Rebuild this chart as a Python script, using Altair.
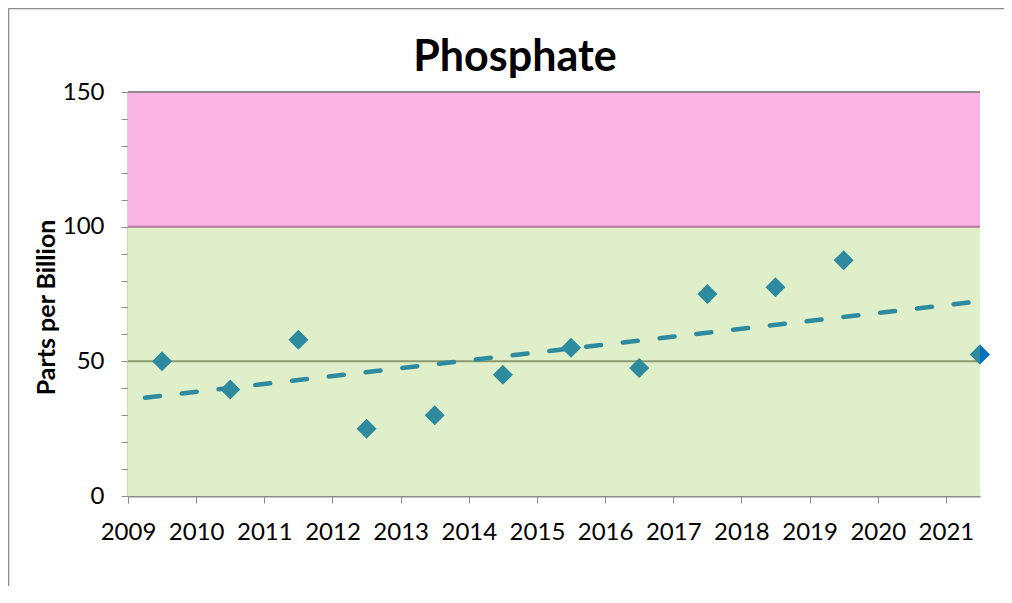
import altair as alt
import pandas as pd

# ---- data ----
years = [2009.5, 2010.5, 2011.5, 2012.5, 2013.5, 2014.5, 2015.5, 2016.5, 2017.5, 2018.5, 2019.5, 2021.5]
ppb = [50, 39.5, 58, 25, 30, 45, 55, 47.5, 75, 77.5, 87.5, 52.5]
latest_year = [2021.5]
latest_ppb = [52.5]
band_low = [0, 100]
band_high = [100, 150]
band_colors = ["#DEEFCA", "#FBB5E2"]
grid_values = [50, 100]
grid_colors = ["#8A9A6E", "#B07A9E"]
x_domain = [2009, 2021.5]
y_domain = [0, 150]
x_ticks = list(range(2009, 2022))
y_ticks = list(range(0, 151, 10))
trend_extent = [2009.25, 2021.5]
title_text = ["Phosphate"]

FONT = "Lato"
TEAL = "#2E8A9E"
BLUE = "#0070C0"
W, H = 852, 404

df = pd.DataFrame({"year": years, "ppb": ppb})
latest = pd.DataFrame({"year": latest_year, "ppb": latest_ppb})
bands = pd.DataFrame({"lo": band_low, "hi": band_high, "c": band_colors,
                      "x0": [x_domain[0]] * 2, "x1": [x_domain[1]] * 2})
grid = pd.DataFrame({"v": grid_values, "c": grid_colors})

xscale = alt.Scale(domain=x_domain, nice=False, zero=False)
yscale = alt.Scale(domain=y_domain, nice=False)

xaxis = alt.Axis(values=x_ticks, format="d", title=None, grid=False,
                 labelFont=FONT, labelFontSize=24, labelColor="black",
                 labelPadding=17, tickSize=7, tickColor="#8C8C8C",
                 domainColor="#8C8C8C", domainWidth=2, labelFlush=False,
                 labelOverlap=False)
yaxis = alt.Axis(values=y_ticks, grid=False, title="Parts per Billion",
                 labelExpr="datum.value % 50 == 0 ? datum.label : ''",
                 labelOverlap=False,
                 labelFont=FONT, labelFontSize=24, labelColor="black",
                 labelPadding=17, tickSize=7, tickColor="#8C8C8C",
                 domainColor="#98AB85", domainWidth=2,
                 titleFont=FONT, titleFontSize=25, titleFontWeight="bold",
                 titleColor="black", titleX=-82, titleY=215, titleAngle=270,
                 titleAlign="center", titleBaseline="middle")


def X(field):
    return alt.X(field, type="quantitative", scale=xscale, axis=xaxis)


def Y(field):
    return alt.Y(field, type="quantitative", scale=yscale, axis=yaxis)


band_layer = alt.Chart(bands).mark_rect().encode(
    x=X("x0"), x2="x1", y=Y("lo"), y2="hi",
    color=alt.Color("c:N", scale=None),
)

grid_layer = alt.Chart(grid).mark_rule(strokeWidth=2).encode(
    y=Y("v"), color=alt.Color("c:N", scale=None),
)

top_edge = alt.Chart(pd.DataFrame({"v": [y_domain[1]]})).mark_rule(
    strokeWidth=2, color="#8C8C8C").encode(y=Y("v"))

trend = alt.Chart(df).transform_regression(
    "year", "ppb", extent=trend_extent
).mark_line(color=TEAL, strokeWidth=4.5, strokeDash=[15, 22], strokeCap="round").encode(
    x=X("year"), y=Y("ppb"),
)

blue_pt = alt.Chart(latest).mark_point(
    shape="diamond", filled=True, size=400, color=BLUE, opacity=1, clip=False
).encode(x=X("year"), y=Y("ppb"))

teal_pts = alt.Chart(df).mark_point(
    shape="diamond", filled=True, size=400, color=TEAL, opacity=1, clip=True
).encode(x=X("year"), y=Y("ppb"))

title_layer = alt.Chart(pd.DataFrame({"t": title_text})).mark_text(
    font=FONT, fontSize=43, fontWeight="bold", color="black",
    align="center", baseline="alphabetic"
).encode(x=alt.value(387), y=alt.value(-21), text="t:N")

border_left = alt.Chart(pd.DataFrame({"k": [0]})).mark_rule(color="#8C8C8C", strokeWidth=1.5).encode(
    x=alt.value(-119.5), y=alt.value(-83.5), y2=alt.value(520))
border_top = alt.Chart(pd.DataFrame({"k": [0]})).mark_rule(color="#8C8C8C", strokeWidth=1.5).encode(
    x=alt.value(-119.5), x2=alt.value(880), y=alt.value(-83.5))

chart = alt.layer(
    band_layer, grid_layer, top_edge, trend, blue_pt, teal_pts, title_layer,
    border_left, border_top
).properties(
    width=W, height=H,
    autosize=alt.AutoSizeParams(type="none"),
    padding={"left": 120, "top": 84, "right": 24, "bottom": 90},
).configure_view(stroke=None)

chart.save("out.html", embed_options={"renderer": "svg", "actions": False})
